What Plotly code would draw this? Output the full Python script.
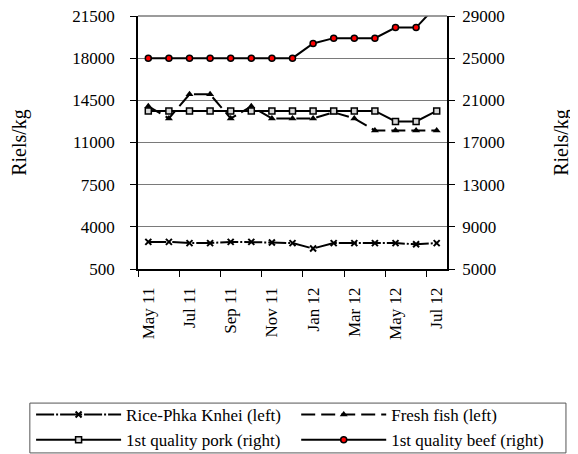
import plotly.graph_objects as go

months = ["May 11", "Jun 11", "Jul 11", "Aug 11", "Sep 11", "Oct 11", "Nov 11", "Dec 11",
          "Jan 12", "Feb 12", "Mar 12", "Apr 12", "May 12", "Jun 12", "Jul 12"]
rice = [2750, 2750, 2650, 2650, 2750, 2750, 2700, 2650, 2200, 2650, 2650, 2650, 2650, 2550, 2650]
fish = [14000, 13000, 15000, 15000, 13000, 14000, 13000, 13000, 13000, 13500, 13000, 12000, 12000, 12000, 12000]
pork = [20000, 20000, 20000, 20000, 20000, 20000, 20000, 20000, 20000, 20000, 20000, 20000, 19000, 19000, 20000]
beef = [25000, 25000, 25000, 25000, 25000, 25000, 25000, 25000, 26400, 26900, 26900, 26900, 27900, 27900, 30000]

left_ticks = [500, 4000, 7500, 11000, 14500, 18000, 21500]
right_ticks = [5000, 9000, 13000, 17000, 21000, 25000, 29000]

x = list(range(len(months)))
font = "Liberation Serif"

fig = go.Figure()
fig.add_trace(go.Scatter(x=x, y=rice, name="Rice-Phka Knhei (left)", mode="lines+markers",
                         legend="legend",
                         line=dict(color="black", width=2, dash="18px,2px,2px,2px"),
                         marker=dict(symbol="x-thin", size=6, color="black",
                                     line=dict(color="black", width=2))))
fig.add_trace(go.Scatter(x=x, y=fish, name="Fresh fish (left)", mode="lines+markers",
                         legend="legend2",
                         line=dict(color="black", width=2, dash="14px,6px"),
                         marker=dict(symbol="triangle-up", size=7, color="black")))
fig.add_trace(go.Scatter(x=x, y=pork, name="1st quality pork (right)", mode="lines+markers",
                         yaxis="y2", legend="legend", line=dict(color="black", width=2),
                         marker=dict(symbol="square", size=6, color="#d9d9d9",
                                     line=dict(color="black", width=1.5))))
fig.add_trace(go.Scatter(x=x, y=beef, name="1st quality beef (right)", mode="lines+markers",
                         yaxis="y2", legend="legend2", line=dict(color="black", width=2),
                         marker=dict(symbol="circle", size=6, color="red",
                                     line=dict(color="black", width=1.5))))

legend_style = dict(orientation="v", yanchor="top", xanchor="left", y=-0.506,
                    bgcolor="rgba(0,0,0,0)", borderwidth=0, itemwidth=85,
                    font=dict(family=font, size=17), tracegroupgap=0)

# page has an 8px body margin, so the figure is 8px smaller than the window
fig.update_layout(
    width=570, height=446,
    margin=dict(l=130, r=131, t=8, b=185, autoexpand=False),
    paper_bgcolor="white", plot_bgcolor="white",
    font=dict(family=font, size=17, color="black"),
    xaxis=dict(range=[-0.5, len(months) - 0.5], tickmode="array",
               tickvals=x[::2], ticktext=months[::2], tickangle=-90,
               ticks="", showgrid=False, zeroline=False, automargin=False,
               ticklabelstandoff=10,
               showline=True, linecolor="black", linewidth=1.5,
               minor=dict(tickmode="array", tickvals=[i - 0.5 for i in x[::2]],
                          ticks="outside", ticklen=6, tickcolor="black", showgrid=False)),
    yaxis=dict(range=[500, 21500], tickmode="array", tickvals=left_ticks,
               ticktext=[str(v) for v in left_ticks], ticklabeloverflow="allow",
               showgrid=True, gridcolor="#7a7a7a", gridwidth=1,
               ticks="outside", ticklen=6, tickcolor="black", ticklabelstandoff=12,
               showline=True, linecolor="black", linewidth=1.5, zeroline=False,
               automargin=False, title=dict(text="Riels/kg", standoff=43)),
    yaxis2=dict(range=[5000, 29000], tickmode="array", tickvals=right_ticks,
                ticktext=[str(v) for v in right_ticks], ticklabeloverflow="allow",
                overlaying="y", side="right", showgrid=False,
                ticks="outside", ticklen=6, tickcolor="black", ticklabelstandoff=4,
                showline=True, linecolor="black", linewidth=1.5, zeroline=False,
                automargin=False, title=dict(text="Riels/kg", standoff=50)),
    legend=dict(legend_style, x=-0.346),
    legend2=dict(legend_style, x=0.512),
    shapes=[
        # top edge of the plot area (gray, like the gridlines)
        dict(type="line", xref="paper", yref="paper", x0=0, x1=1, y0=1, y1=1,
             line=dict(color="#7a7a7a", width=1.5)),
        # box around both legend columns
        dict(type="rect", xref="paper", yref="paper",
             x0=-0.35, x1=1.385, y0=-0.727, y1=-0.530,
             line=dict(color="#555555", width=1)),
    ],
)

fig.write_html("out.html")
